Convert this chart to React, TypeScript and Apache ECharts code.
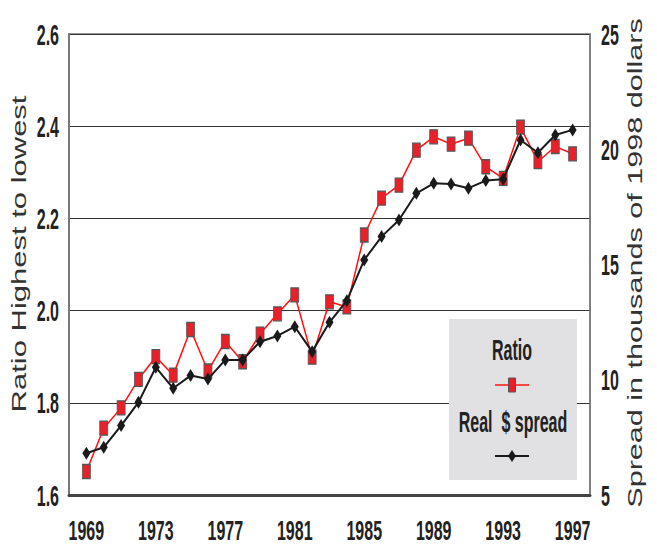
import React, { useEffect, useRef } from "react";
import * as echarts from "echarts";

const years = [1969,1970,1971,1972,1973,1974,1975,1976,1977,1978,1979,1980,1981,1982,1983,1984,1985,1986,1987,1988,1989,1990,1991,1992,1993,1994,1995,1996,1997];
const ratio = [1.651,1.745,1.789,1.851,1.900,1.860,1.959,1.869,1.933,1.889,1.949,1.993,2.034,1.899,2.019,2.008,2.164,2.244,2.272,2.348,2.377,2.361,2.374,2.312,2.287,2.398,2.323,2.356,2.340];
const spread = [6.81,7.07,8.01,9.02,10.54,9.63,10.18,10.03,10.86,10.86,11.65,11.90,12.30,11.22,12.49,13.43,15.20,16.21,16.93,18.09,18.52,18.49,18.31,18.64,18.70,20.40,19.85,20.62,20.84];
const yearLabels = [1969,1973,1977,1981,1985,1989,1993,1997];
const leftTicks = [1.6, 1.8, 2.0, 2.2, 2.4, 2.6];
const rightTicks = [5, 10, 15, 20, 25];

const REG = "'Liberation Sans', Arial, sans-serif";
const LBL_FONT = `bold 16px ${REG}`;
const STRETCH = 1.85;

export default function App() {
  const ref = useRef<HTMLDivElement>(null);
  useEffect(() => {
    if (!ref.current) return;
    const chart = echarts.init(ref.current, null, { renderer: "svg" });
    chart.setOption({
      animation: false,
      backgroundColor: "#fff",
      grid: { left: 69, top: 34, width: 521, height: 461, show: true, borderColor: "#777", borderWidth: 1.5, backgroundColor: "transparent" },
      xAxis: {
        type: "value", min: 1968, max: 1998, interval: 1,
        axisLine: { show: true, lineStyle: { color: "#444", width: 3 } },
        axisTick: { show: false },
        splitLine: { show: false },
        axisLabel: { show: false },
      },
      yAxis: [
        {
          type: "value", min: leftTicks[0], max: leftTicks[leftTicks.length - 1], interval: 0.2,
          axisLine: { show: true, lineStyle: { color: "#777", width: 2 } },
          axisTick: { show: false },
          splitLine: { show: true, lineStyle: { color: "#333", width: 1.2 } },
          axisLabel: { show: false },
        },
        {
          type: "value", min: rightTicks[0], max: rightTicks[rightTicks.length - 1], interval: 5, position: "right",
          axisLine: { show: true, lineStyle: { color: "#777", width: 1.5 } },
          axisTick: { show: false },
          splitLine: { show: false },
          axisLabel: { show: false },
        },
      ],
      series: [
        {
          name: "Ratio", type: "line", yAxisIndex: 0,
          data: years.map((y, i) => [y, ratio[i]]),
          lineStyle: { color: "#ff1010", width: 1.5 },
          symbol: "rect", symbolSize: [8, 14],
          itemStyle: { color: "#e8202a", borderColor: "#555", borderWidth: 1 },
          z: 3,
        },
        {
          name: "Real  $ spread", type: "line", yAxisIndex: 1,
          data: years.map((y, i) => [y, spread[i]]),
          lineStyle: { color: "#1a1a1a", width: 2 },
          symbol: "diamond", symbolSize: [8, 13],
          itemStyle: { color: "#1a1a1a" },
          z: 4,
        },
      ],
    });

    const bottomY = chart.convertToPixel({ yAxisIndex: 0 }, leftTicks[0]) as number;
    const leftX = chart.convertToPixel({ xAxisIndex: 0 }, 1968) as number;
    const rightX = chart.convertToPixel({ xAxisIndex: 0 }, 1998) as number;
    const tickText = (text: string, x: number, y: number, align: string, stretch = STRETCH) => ({
      type: "text", x, y, scaleY: stretch, z: 50,
      style: { text, font: LBL_FONT, lineHeight: 15, fill: "#222", align, verticalAlign: "middle" },
    });
    const labels: any[] = [];
    yearLabels.forEach((yr) => {
      labels.push(tickText(String(yr), chart.convertToPixel({ xAxisIndex: 0 }, yr) as number, bottomY + 35, "center", 1.75));
    });
    leftTicks.forEach((v) => {
      labels.push(tickText(v.toFixed(1), leftX - 10, chart.convertToPixel({ yAxisIndex: 0 }, v) as number, "right"));
    });
    rightTicks.forEach((v) => {
      labels.push(tickText(String(v), rightX + 11, chart.convertToPixel({ yAxisIndex: 1 }, v) as number, "left"));
    });

    chart.setOption({
      graphic: [
        ...labels,
        {
          type: "text", x: 19, y: 254, rotation: Math.PI / 2, scaleX: 1.55,
          style: { text: "Ratio Highest to lowest", font: `20px ${REG}`, fill: "#333", align: "center", verticalAlign: "middle" },
        },
        {
          type: "text", x: 635, y: 263, rotation: Math.PI / 2, scaleX: 1.53,
          style: { text: "Spread in thousands of 1998 dollars", font: `20px ${REG}`, fill: "#333", align: "center", verticalAlign: "middle" },
        },
        {
          type: "group", z: 100,
          children: [
            { type: "rect", shape: { x: 449, y: 319, width: 128, height: 161 }, style: { fill: "#e1e1e3" } },
            { type: "text", x: 512, y: 349, scaleY: STRETCH, style: { text: "Ratio", font: LBL_FONT, fill: "#222", align: "center", verticalAlign: "middle" } },
            { type: "line", shape: { x1: 495, y1: 385, x2: 529, y2: 385 }, style: { stroke: "#ff1010", lineWidth: 1.5 } },
            { type: "rect", shape: { x: 508.5, y: 378, width: 7, height: 14 }, style: { fill: "#e8202a", stroke: "#555", lineWidth: 1 } },
            { type: "text", x: 513, y: 421, scaleY: STRETCH, style: { text: "Real  $ spread", font: LBL_FONT, fill: "#222", align: "center", verticalAlign: "middle" } },
            { type: "line", shape: { x1: 495, y1: 456, x2: 529, y2: 456 }, style: { stroke: "#1a1a1a", lineWidth: 2 } },
            { type: "polygon", shape: { points: [[512, 450], [516, 456], [512, 462], [508, 456]] }, style: { fill: "#1a1a1a" } },
          ],
        },
      ],
    });
    return () => chart.dispose();
  }, []);
  return <div ref={ref} style={{ width: 657, height: 548, position: "absolute", left: 0, top: 0 }} />;
}
